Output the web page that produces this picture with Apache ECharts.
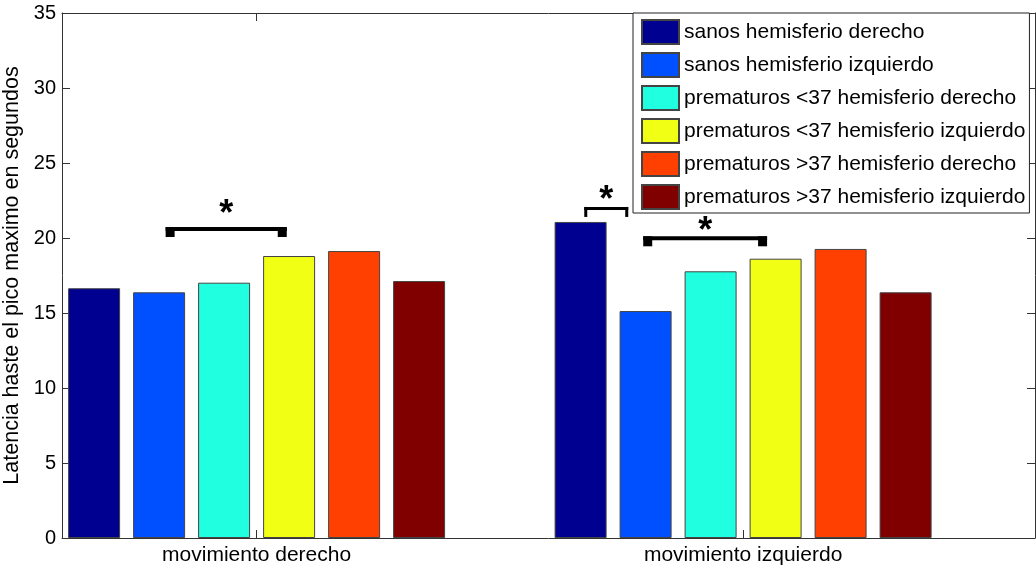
<!DOCTYPE html>
<html>
<head>
<meta charset="utf-8">
<script src="https://cdn.jsdelivr.net/npm/echarts@6/dist/echarts.min.js"></script>
<style>
html,body{margin:0;padding:0;background:#fff;}
#chart{width:1036px;height:572px;}
</style>
</head>
<body>
<div id="chart"></div>
<script>
const categories = ['movimiento derecho', 'movimiento izquierdo'];
const seriesNames = [
  'sanos hemisferio derecho',
  'sanos hemisferio izquierdo',
  'prematuros <37 hemisferio derecho',
  'prematuros <37 hemisferio izquierdo',
  'prematuros >37 hemisferio derecho',
  'prematuros >37 hemisferio izquierdo'
];
const sanosDerecho = [16.65, 21.07];
const sanosIzquierdo = [16.38, 15.13];
const prem37menosDerecho = [17.02, 17.78];
const prem37menosIzquierdo = [18.80, 18.62];
const prem37masDerecho = [19.13, 19.27];
const prem37masIzquierdo = [17.13, 16.38];
const yTicks = [0, 5, 10, 15, 20, 25, 30, 35];
// significance brackets: [xStart, xEnd, yLine, yStar, capKind]
const sigBrackets = [
  [0.813, 1.062, 20.6, 22.13, 0],
  [1.6735, 1.7639, 21.97, 23.03, 1],
  [1.7947, 2.0493, 19.98, 20.97, 0]
];

const allValues = [sanosDerecho, sanosIzquierdo, prem37menosDerecho, prem37menosIzquierdo, prem37masDerecho, prem37masIzquierdo];
const colors = ['#000090', '#0050FF', '#20FFE0', '#F0FF14', '#FF4000', '#800000'];
const FONT = 'Liberation Sans, Arial, sans-serif';
const catPos = categories.map((c, i) => i + 1);

const chart = echarts.init(document.getElementById('chart'), null, {renderer: 'canvas'});

const barSeries = seriesNames.map((name, s) => ({
  name: name,
  type: 'bar',
  xAxisIndex: 0,
  yAxisIndex: 0,
  barWidth: 52,
  barGap: '25%',
  itemStyle: {color: colors[s], borderColor: '#444', borderWidth: 1},
  emphasis: {disabled: true},
  data: catPos.map((x, i) => [x, allValues[s][i]])
}));

const bracketSeries = {
  type: 'custom',
  xAxisIndex: 0,
  yAxisIndex: 0,
  silent: true,
  z: 5,
  encode: {x: [0, 1], y: [2, 3]},
  data: sigBrackets,
  renderItem: function (params, api) {
    const x1 = api.value(0), x2 = api.value(1), yl = api.value(2), ys = api.value(3), kind = api.value(4);
    const p1 = api.coord([x1, yl]);
    const p2 = api.coord([x2, yl]);
    const ps = api.coord([(x1 + x2) / 2, ys]);
    const children = [];
    if (kind === 0) {
      children.push({type: 'rect', shape: {x: p1[0], y: p1[1] - 2, width: p2[0] - p1[0], height: 4}, style: {fill: '#000'}});
      children.push({type: 'rect', shape: {x: p1[0], y: p1[1] - 2, width: 9, height: 10}, style: {fill: '#000'}});
      children.push({type: 'rect', shape: {x: p2[0] - 9, y: p1[1] - 2, width: 9, height: 10}, style: {fill: '#000'}});
    } else {
      children.push({type: 'rect', shape: {x: p1[0], y: p1[1] - 1.5, width: p2[0] - p1[0], height: 3}, style: {fill: '#000'}});
      children.push({type: 'rect', shape: {x: p1[0], y: p1[1] - 1.5, width: 3, height: 10}, style: {fill: '#000'}});
      children.push({type: 'rect', shape: {x: p2[0] - 3, y: p1[1] - 1.5, width: 3, height: 10}, style: {fill: '#000'}});
    }
    children.push({
      type: 'text',
      style: {text: '*', x: ps[0], y: ps[1] + 9, fontSize: 36, fontWeight: 'bold', fontFamily: FONT, align: 'center', verticalAlign: 'middle', fill: '#000'}
    });
    return {type: 'group', children: children};
  }
};

const option = {
  animation: false,
  backgroundColor: '#fff',
  color: colors,
  grid: {left: 62, right: 1, top: 13, bottom: 34, containLabel: false, outerBoundsMode: 'none'},
  legend: {
    orient: 'vertical',
    left: 633,
    top: 13,
    data: seriesNames,
    icon: 'rect',
    itemWidth: 37,
    itemHeight: 24,
    itemGap: 7,
    padding: [6, 4, 3, 8],
    borderColor: '#222',
    borderWidth: 1,
    backgroundColor: '#fff',
    selectedMode: false,
    textStyle: {fontSize: 21, fontFamily: FONT, color: '#000'}
  },
  xAxis: [
    {
      type: 'value',
      position: 'bottom',
      min: 0.6,
      max: 2.6,
      splitLine: {show: false},
      axisLine: {show: true, lineStyle: {color: '#333', width: 1}},
      axisTick: {show: true, inside: true, length: 8, customValues: catPos, lineStyle: {color: '#333'}},
      axisLabel: {
        show: true, customValues: catPos, margin: 7,
        fontSize: 21, fontFamily: FONT, color: '#000',
        formatter: function (v) { return categories[Math.round(v) - 1] || ''; }
      }
    },
    {
      type: 'value',
      position: 'top',
      min: 0.6,
      max: 2.6,
      splitLine: {show: false},
      axisLine: {show: true, onZero: false, lineStyle: {color: '#333', width: 1}},
      axisTick: {show: true, inside: true, length: 8, customValues: catPos, lineStyle: {color: '#333'}},
      axisLabel: {show: false}
    }
  ],
  yAxis: [
    {
      type: 'value',
      position: 'left',
      min: 0,
      max: 35,
      interval: 5,
      name: 'Latencia haste el pico maximo en segundos',
      nameLocation: 'middle',
      nameRotate: 90,
      nameGap: 27,
      nameTextStyle: {fontSize: 21.5, fontFamily: FONT, color: '#000'},
      splitLine: {show: false},
      axisLine: {show: true, lineStyle: {color: '#333', width: 1}},
      axisTick: {show: true, inside: true, length: 8, lineStyle: {color: '#333'}},
      axisLabel: {
        show: true, margin: 6, fontSize: 20, fontFamily: FONT, color: '#000',
        customValues: yTicks
      }
    },
    {
      type: 'value',
      position: 'right',
      min: 0,
      max: 35,
      interval: 5,
      splitLine: {show: false},
      axisLine: {show: true, onZero: false, lineStyle: {color: '#333', width: 1}},
      axisTick: {show: true, inside: true, length: 8, lineStyle: {color: '#333'}},
      axisLabel: {show: false}
    }
  ],
  series: barSeries.concat([bracketSeries])
};

chart.setOption(option);
</script>
</body>
</html>
